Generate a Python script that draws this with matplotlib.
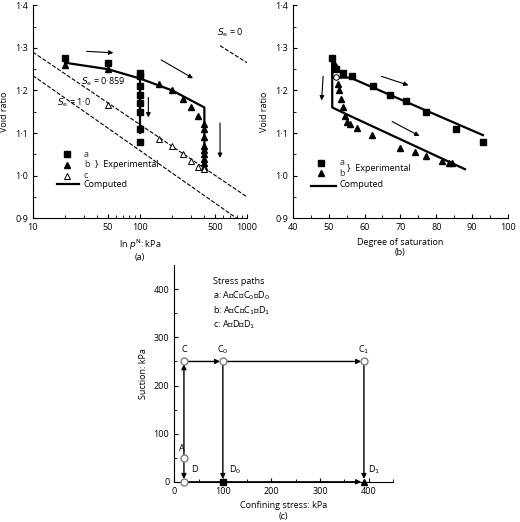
import matplotlib
matplotlib.use("Agg")
import matplotlib.pyplot as plt
from matplotlib.ticker import FixedLocator, NullFormatter

plt.rcParams['font.family'] = ['Open Sans', 'DejaVu Sans']
plt.rcParams['font.size'] = 6.5

# Panel (a)
a_sq_x = [20, 50, 100, 100, 100, 100, 100, 100, 100, 100]
a_sq_y = [1.275, 1.265, 1.24, 1.235, 1.21, 1.19, 1.17, 1.15, 1.11, 1.08]
a_tri_x = [20, 50, 150, 200, 250, 300, 350, 400, 400, 400, 400, 400, 400, 400, 400, 400]
a_tri_y = [1.26, 1.25, 1.215, 1.2, 1.18, 1.16, 1.14, 1.12, 1.11, 1.09, 1.07, 1.06, 1.05, 1.04, 1.03, 1.02]
a_otri_x = [50, 150, 200, 250, 300, 350, 400]
a_otri_y = [1.165, 1.085, 1.07, 1.05, 1.035, 1.02, 1.015]
a_comp_x = [20, 50, 100, 200, 400, 400]
a_comp_y = [1.265, 1.25, 1.228, 1.2, 1.16, 1.02]
a_comp2_x = [100, 100]
a_comp2_y = [1.228, 1.10]
se1_x, se1_y = [10, 800], [1.235, 0.9]
se859_x, se859_y = [10, 1000], [1.29, 0.95]
se0_x, se0_y = [560, 1000], [1.305, 1.265]

# Panel (b)
b_sq_x = [51, 52, 54, 56.5, 62.5, 67, 71.5, 77, 85.5, 93]
b_sq_y = [1.275, 1.25, 1.24, 1.235, 1.21, 1.19, 1.175, 1.15, 1.11, 1.08]
b_tri_x = [51.5, 52, 52.5, 53, 53.5, 54, 54.5, 55, 56, 58, 62, 70, 74, 77, 81.5, 83.5, 84.3]
b_tri_y = [1.265, 1.255, 1.215, 1.2, 1.18, 1.16, 1.14, 1.125, 1.12, 1.112, 1.095, 1.065, 1.055, 1.045, 1.035, 1.03, 1.03]
b_compa_x = [51, 51, 52, 56, 93]
b_compa_y = [1.275, 1.23, 1.23, 1.23, 1.095]
b_compb_x = [51, 51, 56, 88]
b_compb_y = [1.275, 1.16, 1.14, 1.015]

# Panel (c)
pt_names = ['A', 'C', 'C$_0$', 'C$_1$', 'D', 'D$_0$', 'D$_1$']
pt_x = [20, 20, 100, 390, 20, 100, 390]
pt_y = [50, 250, 250, 250, 0, 0, 0]

fig = plt.figure(figsize=(5.2, 5.22), dpi=100)

def style(ax):
    for s in ['top', 'right']:
        ax.spines[s].set_visible(False)
    ax.tick_params(direction='in', length=3, width=0.8)
    ax.tick_params(which='minor', direction='in', length=2, width=0.6)

ax1 = fig.add_axes([0.063, 0.582, 0.412, 0.408])
ax1.set_xscale('log')
ax1.set_xlim(10, 1000)
ax1.set_ylim(0.9, 1.4)
ax1.plot(se1_x, se1_y, 'k--', lw=0.8)
ax1.plot(se859_x, se859_y, 'k--', lw=0.8)
ax1.plot(se0_x, se0_y, 'k--', lw=0.8)
ax1.plot(a_comp_x, a_comp_y, 'k-', lw=1.6)
ax1.plot(a_comp2_x, a_comp2_y, 'k-', lw=1.6)
ax1.plot(a_sq_x, a_sq_y, 'ks', ms=4)
ax1.plot(a_tri_x, a_tri_y, 'k^', ms=4)
ax1.plot(a_otri_x, a_otri_y, '^', mfc='white', mec='k', ms=4, mew=0.7)
arr = dict(arrowstyle='-|>', color='gray', lw=0.8)
arrk = dict(arrowstyle='-|>', color='k', lw=0.8)
ax1.annotate('', xy=(60, 1.288), xytext=(30, 1.292), arrowprops=dict(arr, color='k'))
ax1.annotate('', xy=(330, 1.225), xytext=(150, 1.275), arrowprops=arrk)
ax1.annotate('', xy=(120, 1.13), xytext=(120, 1.19), arrowprops=arrk)
ax1.annotate('', xy=(560, 1.035), xytext=(560, 1.13), arrowprops=arrk)
ax1.text(700, 1.33, '$S_\\mathrm{e}$ = 0', ha='center')
ax1.text(28, 1.215, '$S_\\mathrm{e}$ = 0·859')
ax1.text(17, 1.165, '$S_\\mathrm{e}$ = 1·0')
ax1.xaxis.set_major_locator(FixedLocator([10, 50, 100, 500, 1000]))
ax1.set_xticklabels(['10', '50', '100', '500', '1000'])
ax1.xaxis.set_minor_formatter(NullFormatter())
ax1.set_yticks([0.9, 1.0, 1.1, 1.2, 1.3, 1.4])
ax1.set_yticklabels(['0·9', '1·0', '1·1', '1·2', '1·3', '1·4'])
ax1.set_yticks([0.95, 1.05, 1.15, 1.25, 1.35], minor=True)
ax1.set_ylabel('Void ratio')
ax1.set_xlabel('ln $p^\\mathrm{N}$: kPa\n(a)')
style(ax1)
# legend (a)
ax1.plot([21], [1.05], 'ks', ms=4)
ax1.plot([21], [1.025], 'k^', ms=4)
ax1.plot([21], [1.0], '^', mfc='white', mec='k', ms=4, mew=0.7)
ax1.plot([17, 27], [0.98, 0.98], 'k-', lw=1.6)
ax1.text(30, 1.05, 'a', va='center', color='#333')
ax1.text(30, 1.025, 'b', va='center', color='#333')
ax1.text(30, 1.0, 'c', va='center', color='#333')
ax1.text(30, 0.98, 'Computed', va='center')
ax1.text(38, 1.025, '}  Experimental', va='center', fontsize=6.5)

ax2 = fig.add_axes([0.563, 0.582, 0.414, 0.408])
ax2.set_xlim(40, 100)
ax2.set_ylim(0.9, 1.4)
ax2.plot(b_compa_x, b_compa_y, 'k-', lw=1.6)
ax2.plot(b_compb_x, b_compb_y, 'k-', lw=1.6)
ax2.plot(b_sq_x, b_sq_y, 'ks', ms=4)
ax2.plot(b_tri_x, b_tri_y, 'k^', ms=4)
ax2.plot([52], [1.232], 'o', mfc='white', mec='k', ms=4, mew=0.7)
ax2.annotate('', xy=(48, 1.17), xytext=(48.5, 1.24), arrowprops=arrk)
ax2.annotate('', xy=(73, 1.21), xytext=(64, 1.235), arrowprops=arrk)
ax2.annotate('', xy=(76, 1.09), xytext=(67, 1.13), arrowprops=arrk)
ax2.set_xticks([40, 50, 60, 70, 80, 90, 100])
ax2.set_xticks([45, 55, 65, 75, 85, 95], minor=True)
ax2.set_yticks([0.9, 1.0, 1.1, 1.2, 1.3, 1.4])
ax2.set_yticklabels(['0·9', '1·0', '1·1', '1·2', '1·3', '1·4'])
ax2.set_yticks([0.95, 1.05, 1.15, 1.25, 1.35], minor=True)
ax2.set_ylabel('Void ratio')
ax2.set_xlabel('Degree of saturation\n(b)')
style(ax2)
ax2.plot([48], [1.03], 'ks', ms=4)
ax2.plot([48], [1.005], 'k^', ms=4)
ax2.plot([45, 52], [0.975, 0.975], 'k-', lw=1.6)
ax2.text(53, 1.03, 'a', va='center', color='#333')
ax2.text(53, 1.005, 'b', va='center', color='#333')
ax2.text(55, 1.017, '}  Experimental', va='center')
ax2.text(53, 0.98, 'Computed', va='center')

ax3 = fig.add_axes([0.335, 0.077, 0.421, 0.415])
ax3.set_xlim(0, 450)
ax3.set_ylim(0, 450)
segs = [((20, 50), (20, 250)), ((20, 250), (100, 250)), ((100, 250), (390, 250)),
        ((100, 250), (100, 0)), ((390, 250), (390, 0)), ((20, 50), (20, 0)),
        ((20, 0), (390, 0))]
for (x0, y0), (x1, y1) in segs:
    ax3.annotate('', xy=(x1, y1), xytext=(x0, y0),
                 arrowprops=dict(arrowstyle='-|>', color='k', lw=1.0, shrinkA=2, shrinkB=2,
                                 mutation_scale=7))
for n, x, y in zip(pt_names, pt_x, pt_y):
    if n == 'D$_0$':
        ax3.plot(x, y, 'ks', ms=5, clip_on=False)
    elif n == 'D$_1$':
        ax3.plot(x, y, 'k^', ms=5, clip_on=False)
    else:
        ax3.plot(x, y, 'o', mfc='white', mec='gray', ms=5, clip_on=False, zorder=5)
offs = {'A': (10, 70), 'C': (20, 275), 'C$_0$': (100, 275), 'C$_1$': (390, 275),
        'D': (35, 25), 'D$_0$': (125, 25), 'D$_1$': (410, 25)}
for n in pt_names:
    ax3.text(*offs[n], n, ha='center' if n not in ('A', 'D') else 'left', va='center')
ax3.text(80, 410, 'Stress paths')
ax3.text(80, 380, 'a: A→C→C$_0$→D$_0$')
ax3.text(80, 350, 'b: A→C→C$_1$→D$_1$')
ax3.text(80, 320, 'c: A→D→D$_1$')
ax3.set_xticks([0, 100, 200, 300, 400])
ax3.set_xticks([50, 150, 250, 350, 450], minor=True)
ax3.set_yticks([0, 100, 200, 300, 400])
ax3.set_yticks([50, 150, 250, 350], minor=True)
ax3.set_ylabel('Suction: kPa')
ax3.set_xlabel('Confining stress: kPa\n(c)')
style(ax3)

fig.savefig('out.png', dpi=100)
